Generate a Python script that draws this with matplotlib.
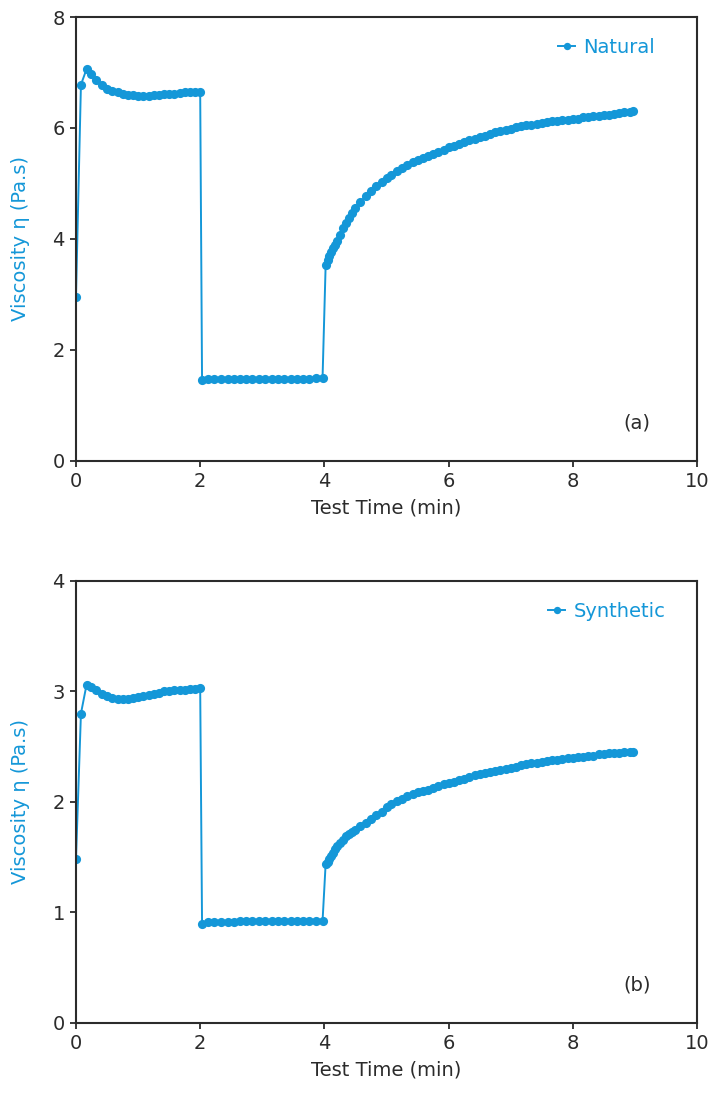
import matplotlib
matplotlib.use('Agg')
import matplotlib.pyplot as plt

# sample times (min), shared by both tests
t_step1 = [0, 0.08, 0.17, 0.25, 0.33, 0.42, 0.5, 0.58, 0.67, 0.75, 0.83, 0.92,
           1.0, 1.08, 1.17, 1.25, 1.33, 1.42, 1.5, 1.58, 1.67, 1.75, 1.83, 1.92, 2.0]
t_step2 = [2.03, 2.13, 2.23, 2.33, 2.44, 2.54, 2.64, 2.74, 2.84, 2.95,
           3.05, 3.15, 3.25, 3.35, 3.46, 3.56, 3.66, 3.76, 3.86, 3.97]
t_step3 = [4.02, 4.05, 4.08, 4.11, 4.14, 4.17, 4.2, 4.25, 4.3, 4.35, 4.4, 4.45,
           4.5, 4.58, 4.67, 4.75, 4.83, 4.92, 5.0, 5.08, 5.17, 5.25, 5.33, 5.42,
           5.5, 5.58, 5.67, 5.75, 5.83, 5.92, 6.0, 6.08, 6.17, 6.25, 6.33, 6.42,
           6.5, 6.58, 6.67, 6.75, 6.83, 6.92, 7.0, 7.08, 7.17, 7.25, 7.33, 7.42,
           7.5, 7.58, 7.67, 7.75, 7.83, 7.92, 8.0, 8.08, 8.17, 8.25, 8.33, 8.42,
           8.5, 8.58, 8.67, 8.75, 8.83, 8.92, 8.97]

# Natural viscosity (Pa.s)
nat_step1 = [2.95, 6.78, 7.06, 6.97, 6.86, 6.77, 6.71, 6.67, 6.64, 6.62, 6.60, 6.59,
             6.58, 6.58, 6.58, 6.59, 6.60, 6.61, 6.62, 6.62, 6.63, 6.64, 6.64, 6.65, 6.65]
nat_step2 = [1.46, 1.47, 1.47, 1.47, 1.47, 1.47, 1.47, 1.48, 1.48, 1.48,
             1.48, 1.48, 1.48, 1.48, 1.48, 1.48, 1.48, 1.48, 1.49, 1.49]
nat_step3 = [3.53, 3.63, 3.70, 3.76, 3.83, 3.89, 3.96, 4.08, 4.19, 4.29, 4.38, 4.47,
             4.55, 4.67, 4.78, 4.87, 4.95, 5.03, 5.10, 5.16, 5.22, 5.28, 5.33, 5.38,
             5.42, 5.46, 5.50, 5.53, 5.57, 5.61, 5.65, 5.68, 5.72, 5.75, 5.78, 5.81,
             5.84, 5.86, 5.89, 5.92, 5.94, 5.97, 5.99, 6.01, 6.03, 6.05, 6.06, 6.08,
             6.09, 6.10, 6.12, 6.13, 6.14, 6.15, 6.16, 6.17, 6.19, 6.20, 6.21, 6.22,
             6.23, 6.24, 6.26, 6.27, 6.28, 6.29, 6.30]

# Synthetic viscosity (Pa.s)
syn_step1 = [1.48, 2.80, 3.06, 3.04, 3.01, 2.98, 2.96, 2.94, 2.93, 2.93, 2.93, 2.94,
             2.95, 2.96, 2.97, 2.98, 2.99, 3.00, 3.00, 3.01, 3.01, 3.01, 3.02, 3.02, 3.03]
syn_step2 = [0.90, 0.91, 0.91, 0.91, 0.91, 0.91, 0.92, 0.92, 0.92, 0.92,
             0.92, 0.92, 0.92, 0.92, 0.92, 0.92, 0.92, 0.92, 0.92, 0.92]
syn_step3 = [1.44, 1.46, 1.48, 1.51, 1.54, 1.57, 1.60, 1.63, 1.66, 1.69, 1.71, 1.73,
             1.75, 1.78, 1.81, 1.85, 1.88, 1.91, 1.95, 1.98, 2.01, 2.03, 2.05, 2.07,
             2.09, 2.10, 2.11, 2.13, 2.14, 2.16, 2.17, 2.18, 2.20, 2.21, 2.23, 2.24,
             2.25, 2.26, 2.27, 2.28, 2.29, 2.30, 2.31, 2.32, 2.33, 2.34, 2.35, 2.35,
             2.36, 2.37, 2.38, 2.38, 2.39, 2.40, 2.40, 2.41, 2.41, 2.42, 2.42, 2.43,
             2.43, 2.44, 2.44, 2.44, 2.45, 2.45, 2.45]

BLUE = '#1497d8'
DARK = '#2b2b2b'

plt.rcParams['font.family'] = ['DejaVu Sans']
plt.rcParams['font.size'] = 14

fig = plt.figure(figsize=(7.12, 10.97), dpi=100)
ax1 = fig.add_axes([0.1067, 0.5798, 0.8723, 0.4047])
ax2 = fig.add_axes([0.1067, 0.0675, 0.8723, 0.4029])

times = t_step1 + t_step2 + t_step3
panels = [
    (ax1, nat_step1 + nat_step2 + nat_step3, 'Natural', 8, [0, 2, 4, 6, 8], '(a)', 0.776),
    (ax2, syn_step1 + syn_step2 + syn_step3, 'Synthetic', 4, [0, 1, 2, 3, 4], '(b)', 0.760),
]

for ax, vals, name, ymax, yticks, tag, legx in panels:
    ax.plot(times, vals, color=BLUE, lw=1.4, marker='o', ms=6.6,
            markeredgewidth=0, label=name)
    ax.set_xlim(0, 10)
    ax.set_ylim(0, ymax)
    ax.set_xticks([0, 2, 4, 6, 8, 10])
    ax.set_yticks(yticks)
    for s in ax.spines.values():
        s.set_color(DARK)
        s.set_linewidth(1.5)
    ax.tick_params(direction='out', length=4, width=1.3, color=DARK,
                   labelcolor=DARK, labelsize=14, pad=4)
    ax.set_xlabel('Test Time (min)', fontsize=14, color=DARK, labelpad=5)
    ax.set_ylabel('Viscosity η (Pa.s)', fontsize=14, color=BLUE, labelpad=16)
    ax.text(0.903, 0.085, tag, transform=ax.transAxes, fontsize=14,
            color=DARK, ha='center', va='center')
    ax.legend(loc='center left', bbox_to_anchor=(legx, 0.932), frameon=False,
              borderaxespad=0, borderpad=0, handlelength=0.9, handletextpad=0.4,
              fontsize=14, labelcolor=BLUE, markerscale=0.8)

fig.savefig('out.png', dpi=100)
